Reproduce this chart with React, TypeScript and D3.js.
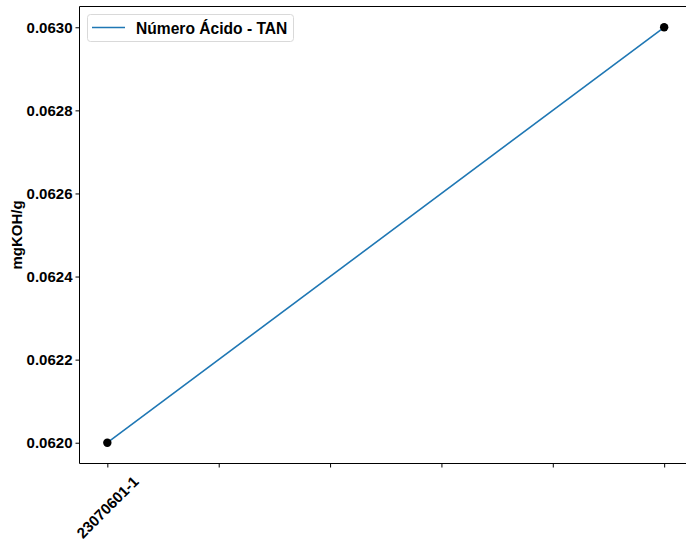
import React, { useEffect, useRef } from "react";
import * as d3 from "d3";

const sampleIds = ["23070601-1"];
const xPositions = [0, 5];
const tanValues = [0.062, 0.063];
const xTicks = [0, 1, 2, 3, 4, 5];
const yTicks = [0.062, 0.0622, 0.0624, 0.0626, 0.0628, 0.063];
const seriesName = "Número Ácido - TAN";
const yLabel = "mgKOH/g";

const W = 686;
const H = 544;
const FONT = "'Liberation Sans', Arial, Helvetica, sans-serif";

export default function App() {
  const ref = useRef<SVGSVGElement>(null);

  useEffect(() => {
    const svg = d3.select(ref.current);
    svg.selectAll("*").remove();

    const left = 79.5;
    const right = 692;
    const top = 6.5;
    const bottom = 463.5;

    const x = d3.scaleLinear().domain([-0.25, 5.25]).range([left, right]);
    const y = d3.scaleLinear().domain([0.06195, 0.06305]).range([bottom, top]);

    const g = svg.append("g");

    // series line
    const pts = xPositions.map((xv, i) => [xv, tanValues[i]] as [number, number]);
    g.append("path")
      .attr("d", d3.line<[number, number]>().x((d) => x(d[0])).y((d) => y(d[1]))(pts))
      .attr("fill", "none")
      .attr("stroke", "#1f77b4")
      .attr("stroke-width", 1.6);

    g.selectAll("circle.pt")
      .data(pts)
      .enter()
      .append("circle")
      .attr("cx", (d) => x(d[0]))
      .attr("cy", (d) => y(d[1]))
      .attr("r", 4.2)
      .attr("fill", "black");

    // spines (right one lies past the canvas edge)
    const spine = (x1: number, y1: number, x2: number, y2: number) =>
      g.append("line")
        .attr("x1", x1).attr("y1", y1).attr("x2", x2).attr("y2", y2)
        .attr("stroke", "black").attr("stroke-width", 1);
    spine(left, top, right, top);
    spine(left, bottom, right, bottom);
    spine(left, top, left, bottom);

    // y axis
    const yAxis = d3
      .axisLeft(y)
      .tickValues(yTicks)
      .tickSize(4)
      .tickPadding(3)
      .tickFormat((d) => d3.format(".4f")(d as number));
    const ya = g.append("g").attr("transform", `translate(${left},0)`).call(yAxis);
    ya.select(".domain").remove();
    ya.selectAll("text")
      .attr("font-family", FONT)
      .attr("font-weight", "bold")
      .attr("font-size", 15)
      .attr("fill", "black");

    // x axis
    const xAxis = d3
      .axisBottom(x)
      .tickValues(xTicks)
      .tickSize(4)
      .tickFormat(() => "");
    const xa = g.append("g").attr("transform", `translate(0,${bottom})`).call(xAxis);
    xa.select(".domain").remove();

    sampleIds.forEach((label, i) => {
      g.append("text")
        .attr("transform", `translate(${x(xTicks[i])},${507}) rotate(-45)`)
        .attr("text-anchor", "middle")
        .attr("dominant-baseline", "central")
        .attr("font-family", FONT)
        .attr("font-weight", "bold")
        .attr("font-size", 15)
        .attr("fill", "black")
        .text(label);
    });

    // y label
    g.append("text")
      .attr("transform", `translate(16,${(top + bottom) / 2}) rotate(-90)`)
      .attr("text-anchor", "middle")
      .attr("dominant-baseline", "central")
      .attr("font-family", FONT)
      .attr("font-weight", "bold")
      .attr("font-size", 15)
      .attr("fill", "black")
      .text(yLabel);

    // legend
    const lg = g.append("g");
    lg.append("rect")
      .attr("x", 87.5)
      .attr("y", 14.5)
      .attr("width", 206)
      .attr("height", 27)
      .attr("rx", 3)
      .attr("fill", "white")
      .attr("fill-opacity", 0.8)
      .attr("stroke", "#d9d9d9");
    lg.append("line")
      .attr("x1", 92)
      .attr("x2", 125)
      .attr("y1", 27.5)
      .attr("y2", 27.5)
      .attr("stroke", "#1f77b4")
      .attr("stroke-width", 1.6);
    lg.append("text")
      .attr("x", 136)
      .attr("y", 28)
      .attr("dominant-baseline", "central")
      .attr("font-family", FONT)
      .attr("font-weight", "bold")
      .attr("font-size", 15.6)
      .attr("fill", "black")
      .text(seriesName);
  }, []);

  return (
    <svg
      ref={ref}
      width={W}
      height={H}
      style={{ position: "absolute", left: 0, top: 0, background: "white" }}
    />
  );
}
